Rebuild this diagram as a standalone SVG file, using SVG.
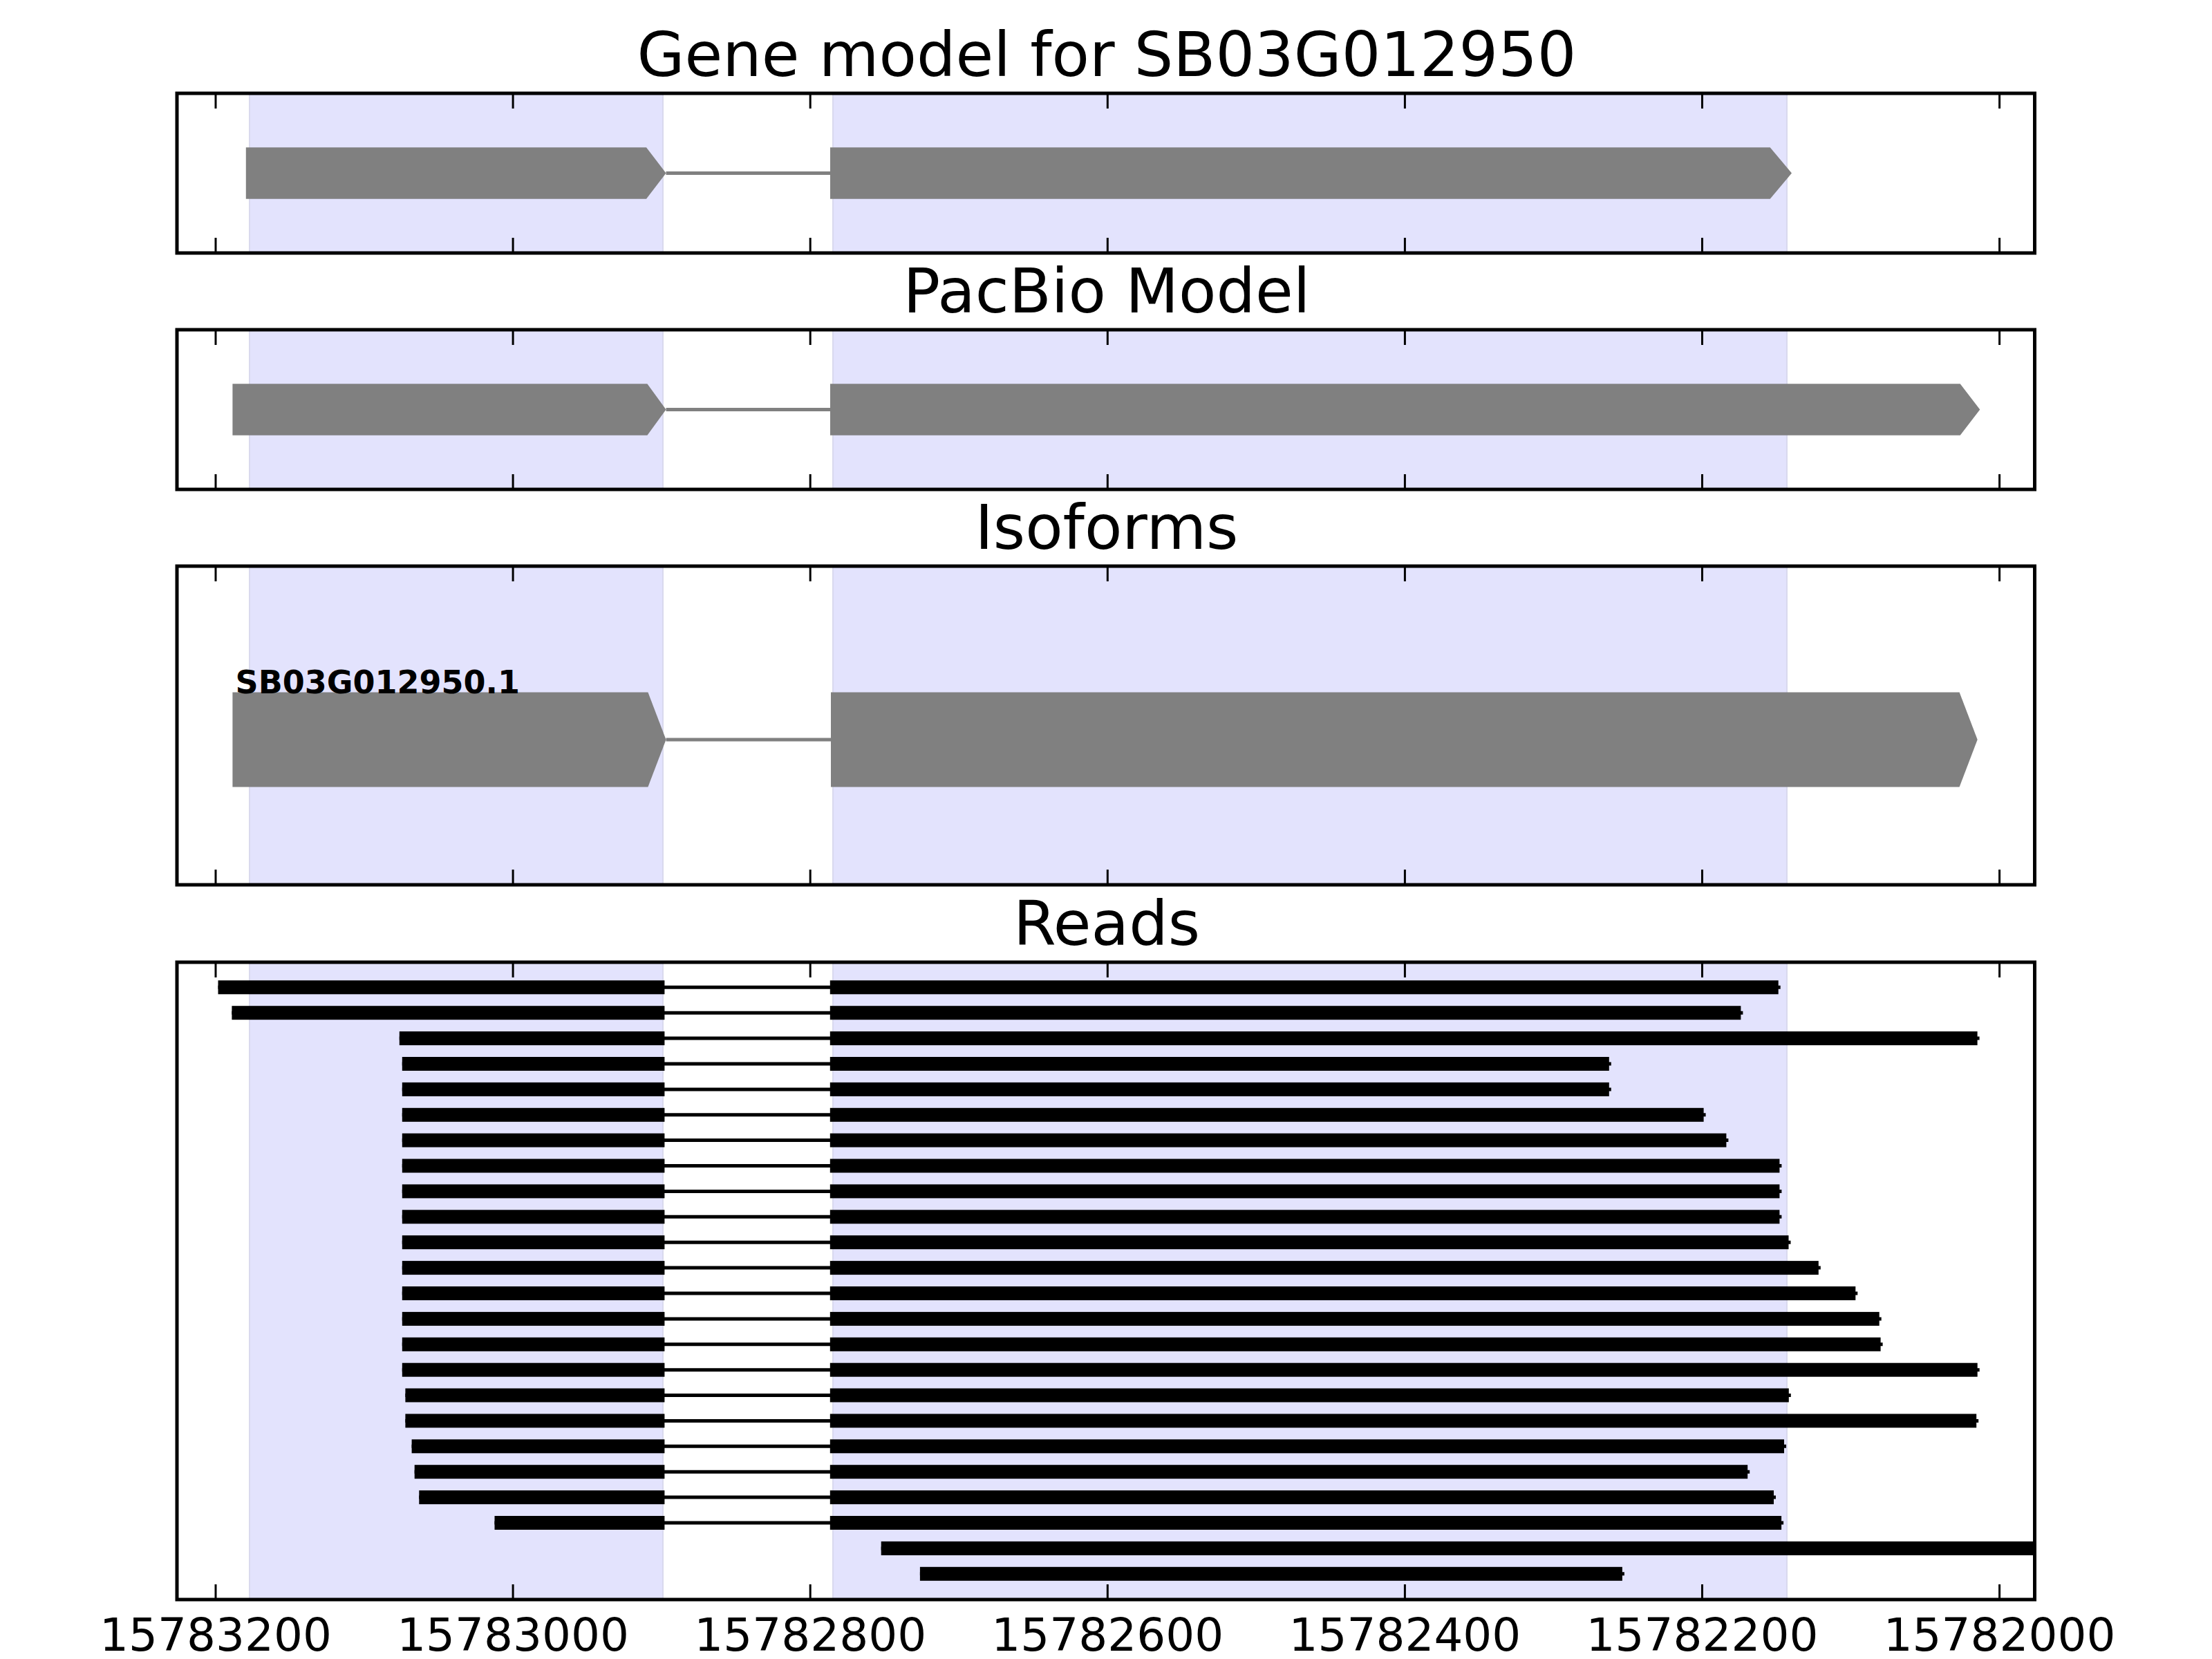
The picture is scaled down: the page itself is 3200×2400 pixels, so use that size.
<svg xmlns="http://www.w3.org/2000/svg" width="3200" height="2400" viewBox="0 0 3200 2400">
<style>
.bg{fill:#ffffff}
.shade{fill:#e3e3fd;stroke:#d9d9ee;stroke-width:2}
.frame{fill:none;stroke:#000;stroke-width:5}
.tick{stroke:#000;stroke-width:3}
.title{font-family:"DejaVu Sans",sans-serif;font-size:89px;fill:#000;text-anchor:middle}
.tl{font-family:"DejaVu Sans",sans-serif;font-size:66px;fill:#000;text-anchor:middle}
.iso{font-family:"DejaVu Sans",sans-serif;font-size:46px;font-weight:bold;fill:#000}
.exon{fill:#808080}
.gintron{stroke:#808080;stroke-width:5}
.rb{fill:#000}
.rl{stroke:#000;stroke-width:5}
</style>
<defs>
<clipPath id="c4"><rect x="256" y="1392" width="2687.5" height="922"/></clipPath>
<g id="ticks">
<line class="tick" x1="312" y1="0" x2="312" y2="22"/>
<line class="tick" x1="742.1" y1="0" x2="742.1" y2="22"/>
<line class="tick" x1="1172.2" y1="0" x2="1172.2" y2="22"/>
<line class="tick" x1="1602.3" y1="0" x2="1602.3" y2="22"/>
<line class="tick" x1="2032.4" y1="0" x2="2032.4" y2="22"/>
<line class="tick" x1="2462.5" y1="0" x2="2462.5" y2="22"/>
<line class="tick" x1="2892.6" y1="0" x2="2892.6" y2="22"/>
</g>
</defs>
<rect class="bg" x="0" y="0" width="3200" height="2400"/>

<!-- Panel 1: Gene model -->
<g id="panel-gene-model">
<text class="title" x="1601" y="110">Gene model for SB03G012950</text>
<rect class="shade" x="361" y="135" width="598" height="231"/>
<rect class="shade" x="1205" y="135" width="1380" height="231"/>
<g id="gm-exon1"><path class="exon" d="M355.8,213.3 H935 L963.5,250.5 L935,287.7 H355.8 Z"/></g>
<g id="gm-exon2"><path class="exon" d="M1201,213.3 H2560.7 L2592,250.5 L2560.7,287.7 H1201 Z"/></g>
<rect class="frame" x="256" y="135" width="2687.5" height="231"/>
<use href="#ticks" transform="translate(0,135)"/>
<use href="#ticks" transform="translate(0,366) scale(1,-1)"/>
</g>

<!-- Panel 2: PacBio Model -->
<g id="panel-pacbio">
<text class="title" x="1601" y="452">PacBio Model</text>
<rect class="shade" x="361" y="477" width="598" height="231"/>
<rect class="shade" x="1205" y="477" width="1380" height="231"/>
<g id="pb-exon1"><path class="exon" d="M336.4,555.3 H936.4 L963.5,592.5 L936.4,629.7 H336.4 Z"/></g>
<g id="pb-exon2"><path class="exon" d="M1201,555.3 H2835.7 L2864.3,592.5 L2835.7,629.7 H1201 Z"/></g>
<rect class="frame" x="256" y="477" width="2687.5" height="231"/>
<use href="#ticks" transform="translate(0,477)"/>
<use href="#ticks" transform="translate(0,708) scale(1,-1)"/>
</g>

<!-- Panel 3: Isoforms -->
<g id="panel-isoforms">
<text class="title" x="1601" y="794">Isoforms</text>
<rect class="shade" x="361" y="819" width="598" height="461"/>
<rect class="shade" x="1205" y="819" width="1380" height="461"/>
<g id="iso-exon1"><path class="exon" d="M336.4,1001.5 H937.4 L963.5,1070 L937.4,1138.5 H336.4 Z"/></g>
<g id="iso-exon2"><path class="exon" d="M1202,1001.5 H2834.6 L2860.7,1070 L2834.6,1138.5 H1202 Z"/></g>
<text class="iso" x="340.5" y="1003">SB03G012950.1</text>
<rect class="frame" x="256" y="819" width="2687.5" height="461"/>
<use href="#ticks" transform="translate(0,819)"/>
<use href="#ticks" transform="translate(0,1280) scale(1,-1)"/>
</g>

<!-- Panel 4: Reads -->
<g id="panel-reads">
<text class="title" x="1601" y="1367">Reads</text>
<rect class="shade" x="361" y="1392" width="598" height="922"/>
<rect class="shade" x="1205" y="1392" width="1380" height="922"/>
</g>

<!-- connectors (introns) -->
<g id="connectors">
<line class="gintron" x1="963.5" y1="250.5" x2="1201" y2="250.5"/>
<line class="gintron" x1="963.5" y1="592.5" x2="1201" y2="592.5"/>
<line class="gintron" x1="963.5" y1="1070" x2="1202" y2="1070"/>
<g clip-path="url(#c4)">
<line class="rl" x1="315.5" y1="1428.3" x2="2575.7" y2="1428.3"/>
<line class="rl" x1="335.4" y1="1465.2" x2="2521.4" y2="1465.2"/>
<line class="rl" x1="577.8" y1="1502.1" x2="2863.6" y2="1502.1"/>
<line class="rl" x1="581.8" y1="1539.0" x2="2330.8" y2="1539.0"/>
<line class="rl" x1="581.8" y1="1575.9" x2="2330.8" y2="1575.9"/>
<line class="rl" x1="581.8" y1="1612.8" x2="2467.6" y2="1612.8"/>
<line class="rl" x1="581.8" y1="1649.6" x2="2500.4" y2="1649.6"/>
<line class="rl" x1="581.8" y1="1686.5" x2="2577.4" y2="1686.5"/>
<line class="rl" x1="581.8" y1="1723.4" x2="2577.4" y2="1723.4"/>
<line class="rl" x1="581.8" y1="1760.3" x2="2577.4" y2="1760.3"/>
<line class="rl" x1="581.8" y1="1797.2" x2="2590.5" y2="1797.2"/>
<line class="rl" x1="581.8" y1="1834.1" x2="2633.8" y2="1834.1"/>
<line class="rl" x1="581.8" y1="1871.0" x2="2687.3" y2="1871.0"/>
<line class="rl" x1="581.8" y1="1907.9" x2="2721.7" y2="1907.9"/>
<line class="rl" x1="581.8" y1="1944.8" x2="2723.6" y2="1944.8"/>
<line class="rl" x1="581.8" y1="1981.7" x2="2863.7" y2="1981.7"/>
<line class="rl" x1="586.4" y1="2018.5" x2="2590.8" y2="2018.5"/>
<line class="rl" x1="586.4" y1="2055.4" x2="2862.2" y2="2055.4"/>
<line class="rl" x1="595.6" y1="2092.3" x2="2584" y2="2092.3"/>
<line class="rl" x1="599.7" y1="2129.2" x2="2531.2" y2="2129.2"/>
<line class="rl" x1="606.3" y1="2166.1" x2="2569" y2="2166.1"/>
<line class="rl" x1="715.5" y1="2203.0" x2="2580.1" y2="2203.0"/>
<line class="rl" x1="1274.7" y1="2239.9" x2="2946" y2="2239.9"/>
<line class="rl" x1="1330.9" y1="2276.8" x2="2349.9" y2="2276.8"/>
</g>
</g>

<g id="reads" clip-path="url(#c4)">
<g id="read-1"><rect class="rb" x="315.5" y="1418.3" width="645.9" height="20"/><rect class="rb" x="1200.8" y="1418.3" width="1371.9" height="20"/></g>
<g id="read-2"><rect class="rb" x="335.4" y="1455.2" width="626" height="20"/><rect class="rb" x="1200.8" y="1455.2" width="1317.6" height="20"/></g>
<g id="read-3"><rect class="rb" x="577.8" y="1492.1" width="383.6" height="20"/><rect class="rb" x="1200.8" y="1492.1" width="1659.8" height="20"/></g>
<g id="read-4"><rect class="rb" x="581.8" y="1529.0" width="379.6" height="20"/><rect class="rb" x="1200.8" y="1529.0" width="1127" height="20"/></g>
<g id="read-5"><rect class="rb" x="581.8" y="1565.9" width="379.6" height="20"/><rect class="rb" x="1200.8" y="1565.9" width="1127" height="20"/></g>
<g id="read-6"><rect class="rb" x="581.8" y="1602.8" width="379.6" height="20"/><rect class="rb" x="1200.8" y="1602.8" width="1263.8" height="20"/></g>
<g id="read-7"><rect class="rb" x="581.8" y="1639.6" width="379.6" height="20"/><rect class="rb" x="1200.8" y="1639.6" width="1296.6" height="20"/></g>
<g id="read-8"><rect class="rb" x="581.8" y="1676.5" width="379.6" height="20"/><rect class="rb" x="1200.8" y="1676.5" width="1373.6" height="20"/></g>
<g id="read-9"><rect class="rb" x="581.8" y="1713.4" width="379.6" height="20"/><rect class="rb" x="1200.8" y="1713.4" width="1373.6" height="20"/></g>
<g id="read-10"><rect class="rb" x="581.8" y="1750.3" width="379.6" height="20"/><rect class="rb" x="1200.8" y="1750.3" width="1373.6" height="20"/></g>
<g id="read-11"><rect class="rb" x="581.8" y="1787.2" width="379.6" height="20"/><rect class="rb" x="1200.8" y="1787.2" width="1386.7" height="20"/></g>
<g id="read-12"><rect class="rb" x="581.8" y="1824.1" width="379.6" height="20"/><rect class="rb" x="1200.8" y="1824.1" width="1430" height="20"/></g>
<g id="read-13"><rect class="rb" x="581.8" y="1861.0" width="379.6" height="20"/><rect class="rb" x="1200.8" y="1861.0" width="1483.5" height="20"/></g>
<g id="read-14"><rect class="rb" x="581.8" y="1897.9" width="379.6" height="20"/><rect class="rb" x="1200.8" y="1897.9" width="1517.9" height="20"/></g>
<g id="read-15"><rect class="rb" x="581.8" y="1934.8" width="379.6" height="20"/><rect class="rb" x="1200.8" y="1934.8" width="1519.8" height="20"/></g>
<g id="read-16"><rect class="rb" x="581.8" y="1971.7" width="379.6" height="20"/><rect class="rb" x="1200.8" y="1971.7" width="1659.9" height="20"/></g>
<g id="read-17"><rect class="rb" x="586.4" y="2008.5" width="375" height="20"/><rect class="rb" x="1200.8" y="2008.5" width="1387" height="20"/></g>
<g id="read-18"><rect class="rb" x="586.4" y="2045.4" width="375" height="20"/><rect class="rb" x="1200.8" y="2045.4" width="1658.4" height="20"/></g>
<g id="read-19"><rect class="rb" x="595.6" y="2082.3" width="365.8" height="20"/><rect class="rb" x="1200.8" y="2082.3" width="1380.2" height="20"/></g>
<g id="read-20"><rect class="rb" x="599.7" y="2119.2" width="361.7" height="20"/><rect class="rb" x="1200.8" y="2119.2" width="1327.4" height="20"/></g>
<g id="read-21"><rect class="rb" x="606.3" y="2156.1" width="355.1" height="20"/><rect class="rb" x="1200.8" y="2156.1" width="1365.2" height="20"/></g>
<g id="read-22"><rect class="rb" x="715.5" y="2193.0" width="245.9" height="20"/><rect class="rb" x="1200.8" y="2193.0" width="1376.3" height="20"/></g>
<g id="read-23"><rect class="rb" x="1274.7" y="2229.9" width="1680" height="20"/></g>
<g id="read-24"><rect class="rb" x="1330.9" y="2266.8" width="1016" height="20"/></g>
</g>

<g id="reads-frame">
<rect class="frame" x="256" y="1392" width="2687.5" height="922"/>
<use href="#ticks" transform="translate(0,1392)"/>
<use href="#ticks" transform="translate(0,2314) scale(1,-1)"/>
</g>

<g id="xaxis-labels">
<text class="tl" x="312" y="2388">15783200</text>
<text class="tl" x="742.1" y="2388">15783000</text>
<text class="tl" x="1172.2" y="2388">15782800</text>
<text class="tl" x="1602.3" y="2388">15782600</text>
<text class="tl" x="2032.4" y="2388">15782400</text>
<text class="tl" x="2462.5" y="2388">15782200</text>
<text class="tl" x="2892.6" y="2388">15782000</text>
</g>
</svg>
